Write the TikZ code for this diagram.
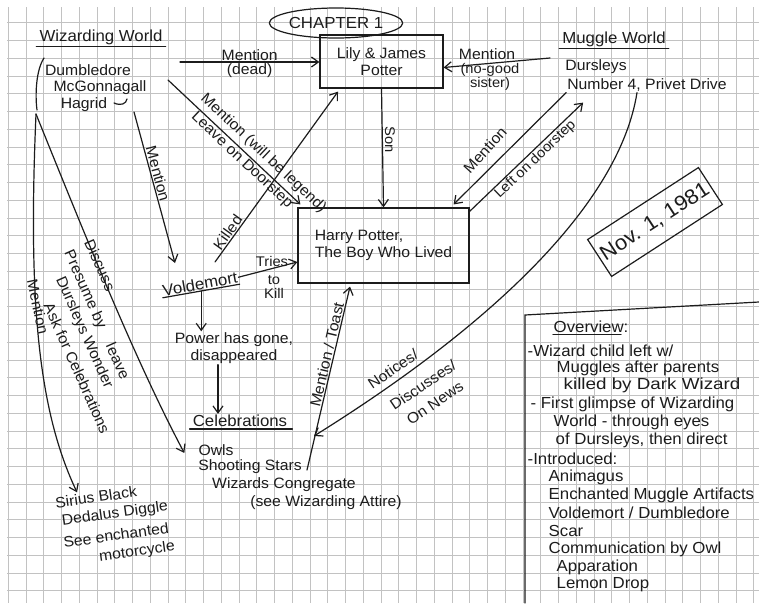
\documentclass[tikz,border=0pt]{standalone}
\usepackage{fontspec}
\setmainfont{Liberation Sans}[FakeStretch=1.05]
\usetikzlibrary{arrows.meta,shapes.geometric,calc}
\definecolor{ink}{HTML}{1C1C1C}
\definecolor{gridc}{HTML}{C2C2C2}
\begin{document}
\begin{tikzpicture}[x=1pt,y=-1pt,
  pen/.style={line width=1.2pt, draw=ink, line cap=round},
  arr/.style={pen, -{Straight Barb[length=7pt,width=10pt,line width=1.2pt]}},
  hw/.style={font=\fontsize{15}{17}\selectfont, inner sep=1pt, text=ink},
  hs/.style={font=\fontsize{14}{14}\selectfont, inner sep=1pt, text=ink},
  hb/.style={font=\fontsize{16}{18}\selectfont, inner sep=1pt, text=ink},
  boxed/.style={draw=ink, line width=1.2pt},
  gl/.style={draw=gridc, line width=0.8pt},
  ov/.style={font=\fontsize{16}{17}\selectfont, inner sep=0.5pt, text=ink, anchor=west}
]
\useasboundingbox (0,0) rectangle (759,603);
\fill[white] (0,0) rectangle (759,603);
\begin{scope}
  \clip (7,7) rectangle (759,603);
  \foreach \i in {0,...,42} \draw[gl] ({8.25+17.75*\i},7) -- ({8.25+17.75*\i},603);
  \foreach \j in {0,...,34} \draw[gl] (7,{4.95+17.75*\j}) -- (759,{4.95+17.75*\j});
\end{scope}

% title
\node[hb, boxed, ellipse, minimum width=117pt, minimum height=30pt, inner sep=0pt] (chap) at (336,23) {CHAPTER 1};

% wizarding world
\node[hb] (ww) at (101,37) {Wizarding World};
\draw[pen] ([xshift=-2pt,yshift=-1pt]ww.south west) -- ([xshift=2pt,yshift=-1pt]ww.south east);
\node[hw] (dumb) at (88,70) {Dumbledore};
\node[hw] (mcg) at (100,88) {McGonnagall};
\node[hw] (hag) at (84,105) {Hagrid};
\draw[pen] (44,58) .. controls (36,70) and (35,95) .. (37,110);
\draw[pen] (114,103) .. controls (121,106) and (126,104) .. (127,99);
\coordinate (wwl) at (36,114);

% Lily & James
\node[hw, boxed, minimum width=123pt, minimum height=53pt, align=center] (lily) at (381.5,61.5) {Lily \& James\\Potter};
\coordinate (mdS) at (180,62);
\draw[arr] (mdS) -- (mdS -| lily.west)
  node[hw, midway, above] (mdl) {Mention}
  node[hw, midway, below] (mdd) {(dead)};

% muggle world
\node[hb] (mw) at (614,39) {Muggle World};
\draw[pen] ([xshift=-2pt,yshift=-1pt]mw.south west) -- ([xshift=2pt,yshift=-1pt]mw.south east);
\node[hw] (durs) at (596,67) {Dursleys};
\node[hw] (num) at (647,85) {Number 4, Privet Drive};
\coordinate (ngS) at (550,58);
\draw[arr] (ngS) -- ([yshift=-6pt]lily.east);
\node[hw] (ngm) at (487,54) {Mention};
\node[hs, align=center] (ngt) at (490,77) {(no-good\\sister)};

% Harry
\node[hw, boxed, minimum width=171pt, minimum height=75pt, align=left] (harry) at (383.5,245.5) {Harry Potter,\\The Boy Who Lived};
\draw[arr] (lily.south) -- (harry.north);
\node[hs, rotate=-90] (sonl) at (390,140) {Son};

\coordinate (legS) at (168,80);
\draw[arr] (legS) -- ([xshift=3pt,yshift=3pt]harry.north west)
  node[hw, sloped, above=3pt, pos=0.66] (legl) {Mention (will be legend)}
  node[hw, sloped, below, pos=0.6] (doorl) {Leave on Doorstep};

\coordinate (kS) at (215,262);
\draw[arr] (kS) -- ([xshift=-43.5pt,yshift=-3pt]lily.south)
  node[hw, sloped, above, pos=0.15] (killl) {Killed};

% Voldemort
\node[hb, rotate=10] (vold) at (200,284) {Voldemort};
\draw[pen] (vold.south west) -- (vold.south east);
\coordinate (hmS) at (134,112);
\draw[arr] (hmS) -- ([xshift=-25pt,yshift=21pt]vold.center)
  node[hw, sloped, above, pos=0.42] (hml) {Mention};
\draw[arr] (vold.east) -- ([yshift=-16.5pt]harry.west);
\node[hs] (tries) at (272,261) {Tries};
\node[hs, align=center] (tokill) at (274,287) {to\\Kill};

\node[hw, align=center] (power) at (234,348) {Power has gone,\\disappeared};
\draw[arr] (vold.south) -- (vold.south |- power.north);

% celebrations
\node[hb] (cel) at (240,421) {Celebrations};
\draw[pen] ([xshift=-2pt,yshift=-1pt]cel.south west) -- ([xshift=4pt,yshift=-1pt]cel.south east);
\draw[arr] ([xshift=-16pt]power.south) -- ([xshift=-16pt]power.south |- cel.north);
\node[hw] (owls) at (216,450) {Owls};
\node[hw] (stars) at (250,467) {Shooting Stars};
\node[hw] (cong) at (284,485) {Wizards Congregate};
\node[hw] (attire) at (326,503) {(see Wizarding Attire)};

% left curves
\node[hw, rotate=8] (sirius) at (96,497) {Sirius Black};
\node[hw, rotate=8] (diggle) at (115,514) {Dedalus Diggle};
\node[hw, rotate=8] (ench) at (116,535) {See enchanted};
\node[hw, rotate=8] (moto) at (137,552) {motorcycle};
\draw[arr] (wwl) .. controls (28,300) and (38,410) .. ([xshift=-18pt,yshift=-2pt]sirius.north);
\draw[arr] (wwl) .. controls (85,235) and (135,360) .. ([xshift=-13pt,yshift=-3pt]owls.west);
\node[hw, rotate=-78] (lml) at (38,307) {Mention};
\node[hw, rotate=-66] (disc) at (100,265) {Discuss};
\node[hw, rotate=-66] (pres) at (96,315) {Presume by\hspace{1.2em}leave};
\node[hw, rotate=-66] (dursw) at (84,333) {Dursleys Wonder};
\node[hw, rotate=-66] (askc) at (77,368) {Ask for Celebrations};

% mention / toast
\coordinate (mtS) at (307,470);
\draw[arr] (mtS) -- ([xshift=-33.5pt,yshift=-3pt]harry.south)
  node[hw, sloped, above, pos=0.62] (mtl) {Mention / Toast};

% notices
\coordinate (noE) at (314,436);
\draw[arr] ([xshift=-10pt]num.south) .. controls (620,200) and (500,320) .. (noE);
\node[hw, rotate=34] (notices) at (393,369) {Notices/};
\node[hw, rotate=34] (discusses) at (423,385) {Discusses/};
\node[hw, rotate=34] (onnews) at (435,403) {On News};

% muggle -> harry
\draw[arr] (num.south west) -- ([xshift=-16pt,yshift=3pt]harry.north east);
\node[hw, rotate=48] (mml) at (485,150) {Mention};
\draw[arr] ([yshift=-4pt]harry.north east) -- ([xshift=17pt,yshift=-10pt]num.south west)
  node[hs, sloped, below, pos=0.53] (ldl) {Left on doorstep};

% date
\node[boxed, rotate=33, minimum width=128pt, minimum height=44pt, font=\fontsize{21}{24}\selectfont, text=ink] (nov) at (655,222) {Nov. 1, 1981};

% overview
\draw[pen] (525,603) -- (525,315) -- (759,302);
\node[ov] (o0) at (553,327) {Overview:};
\draw[pen] ([yshift=-1pt]o0.south west) -- ([xshift=-8pt,yshift=-1pt]o0.south east);
\node[ov] (o1) at (527,351) {-Wizard child left w/};
\node[ov] (o2) at (556,368) {Muggles after parents};
\node[ov] (o3) at (563,385) {\scalebox{1.12}[1]{killed by Dark Wizard}};
\node[ov] (o4) at (530,404) {- First glimpse of Wizarding};
\node[ov] (o5) at (553,422) {World - through eyes};
\node[ov] (o6) at (555,440) {of Dursleys, then direct};
\node[ov] (o7) at (527,459) {-Introduced:};
\node[ov] (o8) at (548,477) {Animagus};
\node[ov] (o9) at (548,495) {Enchanted Muggle Artifacts};
\node[ov] (o10) at (548,513) {Voldemort / Dumbledore};
\node[ov] (o11) at (548,531) {Scar};
\node[ov] (o12) at (548,549) {Communication by Owl};
\node[ov] (o13) at (556,567) {Apparation};
\node[ov] (o14) at (556,585) {Lemon Drop};
\end{tikzpicture}
\end{document}
